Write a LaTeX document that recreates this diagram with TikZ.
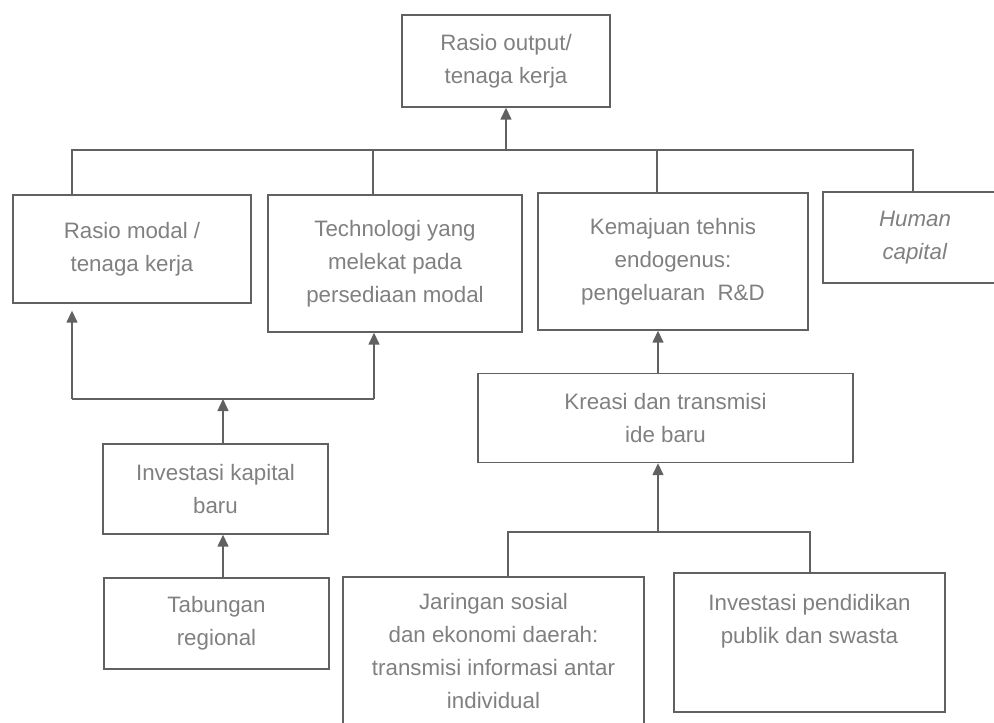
\documentclass[tikz,border=0pt]{standalone}
\usepackage{fontspec}
\setmainfont{Liberation Sans}
\usepackage{xcolor}
\usetikzlibrary{arrows.meta}
\colorlet{garis}{black!62}
\colorlet{teks}{black!50}

\begin{document}
\begin{tikzpicture}[x=0.02cm,y=-0.02cm,
    kotak/.style={draw=garis,line width=0.8pt,text=teks,align=center,inner sep=2pt,
      font=\fontsize{12.7}{18.8}\selectfont},
    hubung/.style={draw=garis,line width=0.8pt},
    panah/.style={hubung,-{Triangle[length=0.24cm,width=0.22cm]}}]
        \useasboundingbox (0,0) rectangle (994,723);
        \clip (0,0) rectangle (994,723);

        %------------------
        % kotak
        %------------------
        \node[kotak,minimum width=4.16cm,minimum height=1.84cm] (output) at (506,61) {Rasio output/\\tenaga kerja};
        \node[kotak,minimum width=4.76cm,minimum height=2.16cm] (rmodal) at (132,249) {Rasio modal /\\tenaga kerja};
        \node[kotak,minimum width=5.08cm,minimum height=2.74cm] (teknologi) at (395,263.5) {Technologi yang\\melekat pada\\persediaan modal};
        \node[kotak,minimum width=5.4cm,minimum height=2.74cm] (kemajuan) at (673,261.5) {Kemajuan tehnis\\endogenus:\\pengeluaran\ \ R\&D};
        \node[kotak,minimum width=3.68cm,minimum height=1.82cm] (human) at (915,237.5) {\textit{Human}\\\textit{capital}};
        \node[kotak,minimum width=4.5cm,minimum height=1.8cm] (investasi) at (215.5,489) {Investasi kapital\\baru};
        \node[kotak,minimum width=4.5cm,minimum height=1.82cm] (tabungan) at (216.5,623.5) {Tabungan\\regional};
        \node[kotak,minimum width=7.5cm,minimum height=1.78cm] (kreasi) at (665.5,418) {Kreasi dan transmisi\\ide baru};
        \node[kotak,minimum width=6.02cm,minimum height=2.96cm] (jaringan) at (493.5,651) {Jaringan sosial\\dan ekonomi daerah:\\transmisi informasi antar\\individual};
        \node[kotak,minimum width=5.42cm,minimum height=2.78cm,text depth=0.94cm] (pendidikan) at (809.5,642.5) {Investasi pendidikan\\publik dan swasta};

        %------------------
        % garis atas
        %------------------
        \coordinate (b1) at (72,150);
        \coordinate (b2) at (373,150);
        \coordinate (b3) at (657,150);
        \coordinate (b4) at (913,150);
        \draw[hubung] (rmodal.north -| b1) |- (b4) -- (b4 |- human.north);
        \draw[hubung] (b2) -- (b2 |- teknologi.north);
        \draw[hubung] (b3) -- (b3 |- kemajuan.north);
        \draw[panah] (output.south |- b1) -- (output.south);

        %------------------
        % cabang kiri
        %------------------
        \coordinate (f1) at (72,399);
        \coordinate (f2) at (374,399);
        \coordinate (f3) at (223,399);
        \draw[hubung] (f1) -- (f2);
        \draw[panah,shorten >=0.14cm] (f1) -- (f1 |- rmodal.south);
        \draw[panah] (f2) -- (f2 |- teknologi.south);
        \draw[panah] (investasi.north -| f3) -- (f3);
        \draw[panah] (tabungan.north -| f3) -- (investasi.south -| f3);

        %------------------
        % cabang kanan
        %------------------
        \coordinate (k1) at (658,532);
        \coordinate (k2) at (508,532);
        \coordinate (k3) at (810,532);
        \draw[panah] (kreasi.north -| k1) -- (kemajuan.south -| k1);
        \draw[panah] (k1) -- (kreasi.south -| k1);
        \draw[hubung] (jaringan.north -| k2) |- (k3) -- (k3 |- pendidikan.north);
\end{tikzpicture}
\end{document}
